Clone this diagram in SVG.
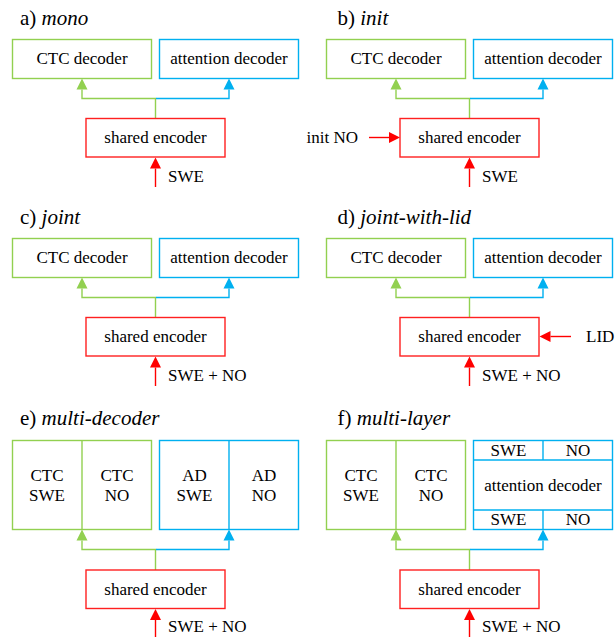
<svg xmlns="http://www.w3.org/2000/svg" width="616" height="637" viewBox="0 0 616 637" font-family="Liberation Serif, DejaVu Serif, serif">
<style>
text{font-family:'Liberation Serif','DejaVu Serif',serif;font-size:17px;fill:#000}
.t{font-size:21px}
.c{text-anchor:middle}
.g{fill:#fff;stroke:#92D050;stroke-width:1.4}
.b{fill:#fff;stroke:#00B0F0;stroke-width:1.4}
.r{fill:#fff;stroke:#FF2020;stroke-width:1.4}
.gl{fill:none;stroke:#92D050;stroke-width:1.4}
.bl{fill:none;stroke:#00B0F0;stroke-width:1.4}
.rl{fill:none;stroke:#FF0000;stroke-width:1.4}
.bd{fill:none;stroke:#00B0F0;stroke-width:1.4}
.gd{fill:none;stroke:#92D050;stroke-width:1.4}
</style>
<defs>
<marker id="ag" markerUnits="userSpaceOnUse" markerWidth="11" markerHeight="11" viewBox="0 0 11 11" refX="0" refY="5.5" orient="auto" overflow="visible"><path d="M0,0 L11,5.5 L0,11 z" fill="#92D050"/></marker>
<marker id="ab" markerUnits="userSpaceOnUse" markerWidth="11" markerHeight="11" viewBox="0 0 11 11" refX="0" refY="5.5" orient="auto" overflow="visible"><path d="M0,0 L11,5.5 L0,11 z" fill="#00B0F0"/></marker>
<marker id="ar" markerUnits="userSpaceOnUse" markerWidth="11" markerHeight="11" viewBox="0 0 11 11" refX="0" refY="5.5" orient="auto" overflow="visible"><path d="M0,0 L11,5.5 L0,11 z" fill="#FF0000"/></marker>
</defs>

<!-- titles -->
<g id="titles">
<text class="t" x="20" y="25">a) <tspan font-style="italic">mono</tspan></text>
<text class="t" x="337.5" y="25">b) <tspan font-style="italic">init</tspan></text>
<text class="t" x="20" y="224">c) <tspan font-style="italic">joint</tspan></text>
<text class="t" x="337.5" y="224">d) <tspan font-style="italic">joint-with-lid</tspan></text>
<text class="t" x="20" y="425">e) <tspan font-style="italic">multi-decoder</tspan></text>
<text class="t" x="337.5" y="425">f) <tspan font-style="italic">multi-layer</tspan></text>
</g>

<!-- connectors -->
<g id="connectors">
<!-- a -->
<path class="gl" d="M155.5,118.5 V98.5 H82 V89.5" marker-end="url(#ag)"/>
<path class="bl" d="M156,98.5 H229 V89.5" marker-end="url(#ab)"/>
<path class="rl" d="M155.5,187 V168.5" marker-end="url(#ar)"/>
<!-- b -->
<path class="gl" d="M469.5,118.5 V98.5 H396 V89.5" marker-end="url(#ag)"/>
<path class="bl" d="M470,98.5 H543 V89.5" marker-end="url(#ab)"/>
<path class="rl" d="M469.5,187 V168.5" marker-end="url(#ar)"/>
<path class="rl" d="M369,137.5 H389" marker-end="url(#ar)"/>
<!-- c -->
<path class="gl" d="M155.5,317.5 V297.5 H82 V288.5" marker-end="url(#ag)"/>
<path class="bl" d="M156,297.5 H229 V288.5" marker-end="url(#ab)"/>
<path class="rl" d="M155.5,386 V367.5" marker-end="url(#ar)"/>
<!-- d -->
<path class="gl" d="M469.5,317.5 V297.5 H396 V288.5" marker-end="url(#ag)"/>
<path class="bl" d="M470,297.5 H543 V288.5" marker-end="url(#ab)"/>
<path class="rl" d="M469.5,386 V367.5" marker-end="url(#ar)"/>
<path class="rl" d="M571,336.5 H550.5" marker-end="url(#ar)"/>
<!-- e -->
<path class="gl" d="M155.5,570 V549.5 H82 V540.5" marker-end="url(#ag)"/>
<path class="bl" d="M156,549.5 H229 V540.5" marker-end="url(#ab)"/>
<path class="rl" d="M155.5,640 V620" marker-end="url(#ar)"/>
<!-- f -->
<path class="gl" d="M469.5,570 V549.5 H396 V540.5" marker-end="url(#ag)"/>
<path class="bl" d="M470,549.5 H543 V540.5" marker-end="url(#ab)"/>
<path class="rl" d="M469.5,640 V620" marker-end="url(#ar)"/>
</g>

<!-- panel a -->
<g id="a-ctc"><rect class="g" x="12.5" y="39.5" width="139" height="39"/><text class="c" x="82" y="64">CTC decoder</text></g>
<g id="a-att"><rect class="b" x="159.5" y="39.5" width="139" height="39"/><text class="c" x="229" y="64">attention decoder</text></g>
<g id="a-enc"><rect class="r" x="86" y="118.5" width="139" height="38.5"/><text class="c" x="155.5" y="143">shared encoder</text></g>
<text x="168" y="182">SWE</text>

<!-- panel b -->
<g id="b-ctc"><rect class="g" x="326.5" y="39.5" width="139" height="39"/><text class="c" x="396" y="64">CTC decoder</text></g>
<g id="b-att"><rect class="b" x="473.5" y="39.5" width="139" height="39"/><text class="c" x="543" y="64">attention decoder</text></g>
<g id="b-enc"><rect class="r" x="400" y="118.5" width="139" height="38.5"/><text class="c" x="469.5" y="143">shared encoder</text></g>
<text x="482" y="182">SWE</text>
<text x="306.5" y="143">init NO</text>

<!-- panel c -->
<g id="c-ctc"><rect class="g" x="12.5" y="238.5" width="139" height="39"/><text class="c" x="82" y="263">CTC decoder</text></g>
<g id="c-att"><rect class="b" x="159.5" y="238.5" width="139" height="39"/><text class="c" x="229" y="263">attention decoder</text></g>
<g id="c-enc"><rect class="r" x="86" y="317.5" width="139" height="38.5"/><text class="c" x="155.5" y="342">shared encoder</text></g>
<text x="168" y="381">SWE + NO</text>

<!-- panel d -->
<g id="d-ctc"><rect class="g" x="326.5" y="238.5" width="139" height="39"/><text class="c" x="396" y="263">CTC decoder</text></g>
<g id="d-att"><rect class="b" x="473.5" y="238.5" width="139" height="39"/><text class="c" x="543" y="263">attention decoder</text></g>
<g id="d-enc"><rect class="r" x="400" y="317.5" width="139" height="38.5"/><text class="c" x="469.5" y="342">shared encoder</text></g>
<text x="482" y="381">SWE + NO</text>
<text x="586" y="342">LID</text>

<!-- panel e -->
<g id="e-ctc">
<rect class="g" x="12.5" y="440.5" width="139" height="89"/>
<line class="gd" x1="82" y1="440.5" x2="82" y2="529.5"/>
<text class="c" x="47" y="481">CTC</text><text class="c" x="47" y="501">SWE</text>
<text class="c" x="117" y="481">CTC</text><text class="c" x="117" y="501">NO</text>
</g>
<g id="e-ad">
<rect class="b" x="159.5" y="440.5" width="139" height="89"/>
<line class="bd" x1="229" y1="440.5" x2="229" y2="529.5"/>
<text class="c" x="194.5" y="481">AD</text><text class="c" x="194.5" y="501">SWE</text>
<text class="c" x="264" y="481">AD</text><text class="c" x="264" y="501">NO</text>
</g>
<g id="e-enc"><rect class="r" x="86" y="570" width="139" height="38.5"/><text class="c" x="155.5" y="594.5">shared encoder</text></g>
<text x="168" y="632">SWE + NO</text>

<!-- panel f -->
<g id="f-ctc">
<rect class="g" x="326.5" y="440.5" width="139" height="89"/>
<line class="gd" x1="396" y1="440.5" x2="396" y2="529.5"/>
<text class="c" x="361" y="481">CTC</text><text class="c" x="361" y="501">SWE</text>
<text class="c" x="431" y="481">CTC</text><text class="c" x="431" y="501">NO</text>
</g>
<g id="f-att">
<rect class="b" x="473.5" y="440.5" width="139" height="89"/>
<line class="bd" x1="473.5" y1="460" x2="612.5" y2="460"/>
<line class="bd" x1="473.5" y1="510" x2="612.5" y2="510"/>
<line class="bd" x1="543" y1="440.5" x2="543" y2="460"/>
<line class="bd" x1="543" y1="510" x2="543" y2="529.5"/>
<text class="c" x="508.5" y="456">SWE</text><text class="c" x="578" y="456">NO</text>
<text class="c" x="543" y="491">attention decoder</text>
<text class="c" x="508.5" y="525">SWE</text><text class="c" x="578" y="525">NO</text>
</g>
<g id="f-enc"><rect class="r" x="400" y="570" width="139" height="38.5"/><text class="c" x="469.5" y="594.5">shared encoder</text></g>
<text x="482" y="632">SWE + NO</text>
</svg>
